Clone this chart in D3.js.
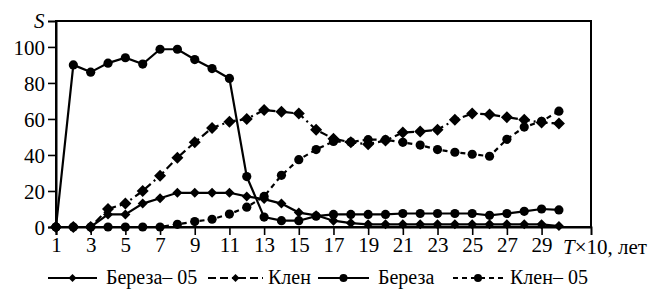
<!DOCTYPE html>
<html>
<head>
<meta charset="utf-8">
<script src="https://cdn.jsdelivr.net/npm/d3@7"></script>
</head>
<body style="margin:0">
<script>
// T x 10 years, 1..30
const years = d3.range(1, 31);
const xTicks = d3.range(1, 30, 2);
const yTicks = [0, 20, 40, 60, 80, 100];

const bereza05 = [0, 0, 0, 7, 7, 13, 16, 19, 19, 19, 19, 17, 15.5, 13, 8, 6.5, 3.5, 2.2, 1.5, 1.5, 1.5, 1.5, 1.5, 1.5, 1.5, 1.5, 1.5, 1.5, 1.5, 0.5];
const klen = [0, 0, 0, 10, 13, 20, 28.5, 38.5, 47, 55, 58.5, 60, 65, 64, 63, 54, 49, 47, 46, 48, 52.5, 53, 54, 59.5, 63, 62.5, 61, 59.5, 58, 57.5];
const bereza = [0, 90, 86, 91, 94, 90.5, 98.7, 98.7, 93, 88, 82.5, 28, 5.5, 3.5, 3.5, 6, 7, 7, 7, 7, 7.5, 7.5, 7.5, 7.5, 7.5, 6.5, 7.5, 8.7, 10, 9.5];
const klen05 = [0, 0, 0, 0, 0, 0, 0, 1.5, 3, 4.3, 7.2, 11, 17, 28.7, 37.4, 43, 47.5, 47.2, 48.5, 48.5, 47, 45.5, 43, 41.5, 40.4, 39.3, 48.7, 55.5, 58.7, 64.3];

const seriesNames = ["Береза– 05", "Клен", "Береза", "Клен– 05"];
const seriesValues = [bereza05, klen, bereza, klen05];

const FONT = "Tinos";
const width = 655, height = 289;
const margin = { left: 56, top: 21, right: 64, bottom: 62 };

const svg = d3.select("body").append("svg")
  .attr("width", width)
  .attr("height", height);

// serif text helper
function serif(sel, size) {
  return sel.style("font-family", `"${FONT}"`)
    .attr("font-size", size);
}

const x = d3.scaleLinear().domain([1, 31.85]).range([margin.left, width - margin.right]);
const y = d3.scaleLinear().domain([0, 114.4]).range([height - margin.bottom, margin.top]);

const styles = [
  { dash: null, marker: "diamond", size: 5 },
  { dash: "8,4,8,4,2,4", marker: "diamond", size: 6 },
  { dash: null, marker: "circle", size: 4.6 },
  { dash: "5,4", marker: "circle", size: 4.6 }
];

// frame
svg.append("rect")
  .attr("x", x.range()[0])
  .attr("y", y.range()[1])
  .attr("width", x.range()[1] - x.range()[0])
  .attr("height", y.range()[0] - y.range()[1])
  .attr("fill", "none")
  .attr("stroke", "#000")
  .attr("stroke-width", 2);

// axes
const xAxis = svg.append("g")
  .attr("transform", `translate(0,${y(0)})`)
  .call(d3.axisBottom(x).tickValues(xTicks).tickSize(8).tickPadding(2).tickFormat(d3.format("d")));
const yAxis = svg.append("g")
  .attr("transform", `translate(${x(1)},0)`)
  .call(d3.axisLeft(y).tickValues(yTicks).tickSize(8).tickPadding(3));

[xAxis, yAxis].forEach(g => {
  g.attr("font-family", null).attr("font-size", null);
  g.select(".domain").attr("stroke-width", 2);
  g.selectAll(".tick line").attr("stroke-width", 1.6);
  serif(g.selectAll("text"), 21);
});
yAxis.selectAll("text").attr("dy", "0.34em");

// axis titles
serif(svg.append("text"), 21)
  .attr("x", 34).attr("y", 28)
  .attr("font-style", "italic")
  .text("S");

const xt = serif(svg.append("text"), 21)
  .attr("x", 563).attr("y", 254);
xt.append("tspan").attr("font-style", "italic").text("T");
xt.append("tspan").text("×10, лет");

// symbol drawing
function drawMarker(g, type, cx, cy, s) {
  if (type === "circle") {
    g.append("circle").attr("cx", cx).attr("cy", cy).attr("r", s).attr("fill", "#000");
  } else {
    g.append("path")
      .attr("d", `M${cx},${cy - s}L${cx + s},${cy}L${cx},${cy + s}L${cx - s},${cy}Z`)
      .attr("fill", "#000");
  }
}

const line = d3.line().x((d, i) => x(years[i])).y(d => y(d));

// draw series
seriesValues.forEach((vals, k) => {
  const st = styles[k];
  const g = svg.append("g");
  g.append("path")
    .datum(vals)
    .attr("d", line)
    .attr("fill", "none")
    .attr("stroke", "#000")
    .attr("stroke-width", 2.2)
    .attr("stroke-dasharray", st.dash);
  vals.forEach((v, i) => drawMarker(g, st.marker, x(years[i]), y(v), st.size));
});

// legend
const legendX = [48, 208, 318, 453];
const legendW = [49, 55, 51, 50];
const legendTextX = [106, 268, 378, 510];
const legendY = 278;
seriesNames.forEach((name, k) => {
  const st = styles[k];
  const g = svg.append("g");
  const x0 = legendX[k], x1 = legendX[k] + legendW[k];
  g.append("line")
    .attr("x1", x0).attr("x2", x1)
    .attr("y1", legendY).attr("y2", legendY)
    .attr("stroke", "#000")
    .attr("stroke-width", 2)
    .attr("stroke-dasharray", st.dash);
  drawMarker(g, st.marker, (x0 + x1) / 2, legendY, 4);
  serif(g.append("text"), 20)
    .attr("x", legendTextX[k])
    .attr("y", legendY + 6)
    .text(name);
});
</script>
</body>
</html>
